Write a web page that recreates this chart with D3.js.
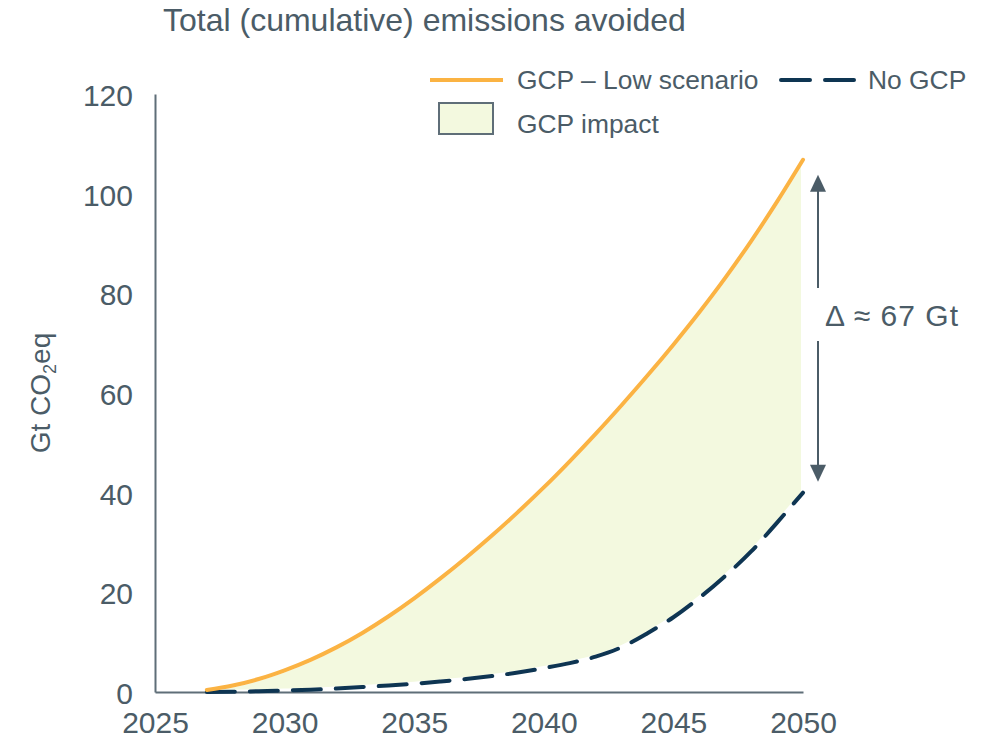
<!DOCTYPE html>
<html>
<head>
<meta charset="utf-8">
<script src="https://cdn.jsdelivr.net/npm/d3@7"></script>
<style>
  html, body { margin: 0; padding: 0; background: #fff; }
  svg { display: block; font-family: "Liberation Sans", Arial, sans-serif; }
</style>
</head>
<body>
<svg id="chart" width="999" height="739"></svg>
<script>
const years = [2027,2028,2029,2030,2031,2032,2033,2034,2035,2036,2037,2038,2039,2040,2041,2042,2043,2044,2045,2046,2047,2048,2049,2050];
const gcpLow = [0.4,1.3,2.6,4.35,6.45,8.95,11.85,15.15,18.8,22.75,26.95,31.4,36.1,41.05,46.3,51.8,57.55,63.5,69.7,76.2,83.1,90.5,98.4,106.8];
const noGcp = [0.0,0.05,0.15,0.3,0.45,0.7,1.0,1.3,1.65,2.1,2.6,3.2,3.9,4.8,5.8,7.1,9.0,11.8,15.0,18.9,23.3,28.2,34.0,40.0];
const xTicks = [2025,2030,2035,2040,2045,2050];
const yTicks = [0,20,40,60,80,100,120];
const title = "Total (cumulative) emissions avoided";
const legendLabels = ["GCP – Low scenario", "No GCP", "GCP impact"];
const deltaLabel = "Δ ≈ 67 Gt";

const textColor = "#4b5c67";
const axisColor = "#5f6e78";
const orange = "#fbb343";
const navy = "#0e3552";
const fillColor = "#f3f9df";

const svg = d3.select("#chart");
const x = d3.scaleLinear().domain([2025, 2050]).range([155, 803]);
const y = d3.scaleLinear().domain([0, 120]).range([692, 94]);

const data = years.map((yr, i) => ({ yr, hi: gcpLow[i], lo: noGcp[i] }));
const curve = d3.curveMonotoneX;

// Title
svg.append("text").attr("x", 163).attr("y", 31)
  .attr("font-size", 32).attr("fill", textColor).text(title);

// Area
svg.append("path").datum(data)
  .attr("d", d3.area().x(d => x(d.yr)).y0(d => y(d.lo)).y1(d => y(d.hi)).curve(curve))
  .attr("fill", fillColor).attr("stroke", "#fff").attr("stroke-width", 4).attr("stroke-linejoin", "round");

// Axes
const yAxis = svg.append("g").attr("transform", "translate(155,0)")
  .call(d3.axisLeft(y).tickValues(yTicks).tickSize(0).tickPadding(22));
const xAxis = svg.append("g").attr("transform", "translate(0,692)")
  .call(d3.axisBottom(x).tickValues(xTicks).tickFormat(d3.format("d")).tickSize(0).tickPadding(20));
[yAxis, xAxis].forEach(g => {
  g.select(".domain").attr("stroke", axisColor).attr("stroke-width", 2);
  g.selectAll("text").attr("font-size", 30).attr("fill", textColor)
    .attr("font-family", "'Liberation Sans', Arial, sans-serif");
});
yAxis.selectAll("text").attr("dy", "0.38em");

// Lines
svg.append("path").datum(data)
  .attr("d", d3.line().x(d => x(d.yr)).y(d => y(d.lo)).curve(curve))
  .attr("fill", "none").attr("stroke", navy).attr("stroke-width", 4)
  .attr("stroke-dasharray", "28 15").attr("stroke-linecap", "round");
svg.append("path").datum(data)
  .attr("d", d3.line().x(d => x(d.yr)).y(d => y(d.hi)).curve(curve))
  .attr("fill", "none").attr("stroke", orange).attr("stroke-width", 4)
  .attr("stroke-linecap", "round");

// Y axis title
const yl = svg.append("text").attr("transform", "translate(50,393) rotate(-90)")
  .attr("text-anchor", "middle").attr("font-size", 28).attr("fill", textColor);
yl.append("tspan").text("Gt CO");
yl.append("tspan").attr("font-size", 18).attr("dy", 6).text("2");
yl.append("tspan").attr("dy", -6).text("eq");

// Delta arrow
const last = data[data.length - 1];
const ax = 818;
const yTop = y(last.hi) + 15, yBot = y(last.lo) - 11;
svg.append("line").attr("x1", ax).attr("x2", ax).attr("y1", yTop + 14).attr("y2", 288)
  .attr("stroke", textColor).attr("stroke-width", 2);
svg.append("line").attr("x1", ax).attr("x2", ax).attr("y1", 341).attr("y2", yBot - 14)
  .attr("stroke", textColor).attr("stroke-width", 2);
svg.append("path").attr("d", `M${ax},${yTop} L${ax-8},${yTop+17} L${ax+8},${yTop+17} Z`).attr("fill", textColor);
svg.append("path").attr("d", `M${ax},${yBot} L${ax-8},${yBot-17} L${ax+8},${yBot-17} Z`).attr("fill", textColor);
svg.append("text").attr("x", 825).attr("y", 326).attr("font-size", 30).attr("fill", textColor)
  .attr("textLength", 133).attr("lengthAdjust", "spacing").text(deltaLabel);

// Legend
const lg = svg.append("g");
lg.append("line").attr("x1", 430).attr("x2", 503).attr("y1", 80).attr("y2", 80)
  .attr("stroke", orange).attr("stroke-width", 4);
lg.append("text").attr("x", 517).attr("y", 89).attr("font-size", 26.4).attr("fill", textColor).text(legendLabels[0]);
lg.append("line").attr("x1", 781).attr("x2", 856).attr("y1", 80).attr("y2", 80)
  .attr("stroke", navy).attr("stroke-width", 4).attr("stroke-dasharray", "29 15").attr("stroke-linecap", "round");
lg.append("text").attr("x", 868).attr("y", 89).attr("font-size", 26.4).attr("fill", textColor).text(legendLabels[1]);
lg.append("rect").attr("x", 439).attr("y", 103).attr("width", 54).attr("height", 31)
  .attr("fill", fillColor).attr("stroke", axisColor).attr("stroke-width", 2);
lg.append("text").attr("x", 517).attr("y", 133).attr("font-size", 26.4).attr("fill", textColor).text(legendLabels[2]);
</script>
</body>
</html>
